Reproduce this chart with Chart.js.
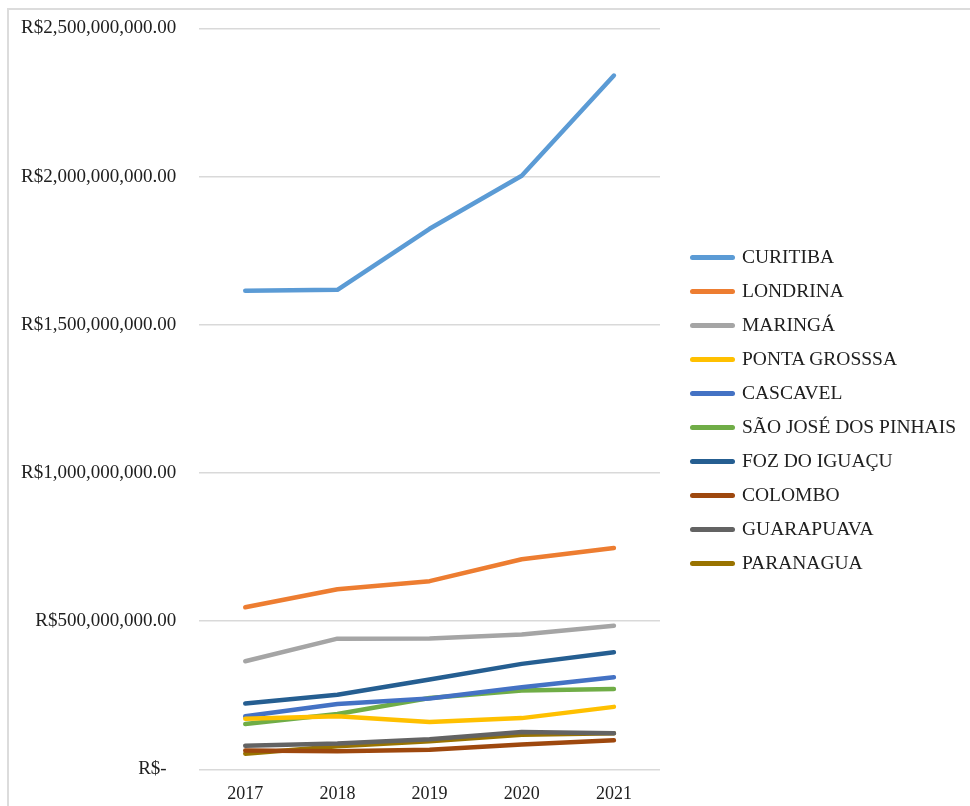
<!DOCTYPE html>
<html>
<head>
<meta charset="utf-8">
<script src="https://cdn.jsdelivr.net/npm/chart.js@4.4.1/dist/chart.umd.min.js"></script>
<style>
  html, body { margin: 0; padding: 0; background: #fff; }
  #wrap { position: relative; width: 970px; height: 806px; overflow: hidden; }
  #frame { position: absolute; left: 7px; top: 8px; width: 980px; height: 820px;
           border-left: 2px solid #dcdcdc; border-top: 2px solid #dcdcdc; pointer-events: none; }
  #c { position: absolute; left: 0; top: -6px; }
  #legend { position: absolute; left: 690px; top: 240px; font-family: "Liberation Serif", "Times New Roman", serif;
            font-size: 19.5px; color: #202020; }
  .item { position: absolute; left: 0; height: 34px; white-space: nowrap; }
  .swatch { position: absolute; left: 0; width: 45px; height: 4.5px; border-radius: 3px; }
  .label { position: absolute; left: 52px; line-height: 20px; }
</style>
</head>
<body>
<div id="wrap">
  <canvas id="c" width="970" height="825"></canvas>
  <div id="frame"></div>
  <div id="legend"></div>
</div>
<script>
const years = ['2017', '2018', '2019', '2020', '2021'];
const cities = ['CURITIBA', 'LONDRINA', 'MARINGÁ', 'PONTA GROSSSA', 'CASCAVEL',
                'SÃO JOSÉ DOS PINHAIS', 'FOZ DO IGUAÇU', 'COLOMBO', 'GUARAPUAVA', 'PARANAGUA'];
const colors = ['#5B9BD5', '#ED7D31', '#A5A5A5', '#FFC000', '#4472C4',
                '#70AD47', '#255E91', '#9E480E', '#636363', '#997300'];

const curitiba    = [1615000000, 1618000000, 1824000000, 2003000000, 2341000000];
const londrina    = [547000000, 608000000, 635000000, 709000000, 747000000];
const maringa     = [365000000, 441000000, 442000000, 455000000, 485000000];
const pontaGrossa = [171000000, 179000000, 160000000, 173000000, 211000000];
const cascavel    = [179000000, 221000000, 239000000, 277000000, 311000000];
const saoJose     = [153000000, 187000000, 241000000, 266000000, 271000000];
const fozIguacu   = [222000000, 252000000, 303000000, 356000000, 395000000];
const colombo     = [64000000, 61000000, 66000000, 84000000, 98000000];
const guarapuava  = [80000000, 87000000, 102000000, 126000000, 122000000];
const paranagua   = [53000000, 78000000, 95000000, 117000000, 122000000];

const seriesValues = [curitiba, londrina, maringa, pontaGrossa, cascavel,
                      saoJose, fozIguacu, colombo, guarapuava, paranagua];

const yMin = 0, yMax = 2500000000, yStep = 500000000;

const datasets = cities.map((name, i) => ({
  label: name,
  data: seriesValues[i],
  borderColor: colors[i],
  backgroundColor: colors[i],
  borderWidth: 4.5,
  borderCapStyle: 'round',
  borderJoinStyle: 'round',
  pointRadius: 0,
  tension: 0,
  fill: false
}));

const fontFamily = '"Liberation Serif", "Times New Roman", serif';

function fmtMoney(v) {
  if (v === 0) return 'R$-  ';
  return 'R$' + v.toLocaleString('en-US', { minimumFractionDigits: 2, maximumFractionDigits: 2 });
}

const chart = new Chart(document.getElementById('c'), {
  type: 'line',
  data: { labels: years, datasets: datasets },
  options: {
    responsive: false,
    animation: false,
    layout: { padding: { left: -2, right: 310, top: 7, bottom: 0 } },
    plugins: { legend: { display: false }, tooltip: { enabled: false } },
    scales: {
      x: {
        offset: true,
        grid: { display: false, drawTicks: false },
        border: { display: false },
        ticks: { color: '#202020', font: { family: fontFamily, size: 18 }, padding: 14 }
      },
      y: {
        min: yMin, max: yMax,
        grid: { color: '#d9d9d9', lineWidth: 1.5, drawTicks: false },
        border: { display: false },
        ticks: {
          stepSize: yStep,
          color: '#202020',
          font: { family: fontFamily, size: 19 },
          padding: 23,
          callback: (v) => fmtMoney(v)
        }
      }
    }
  }
});

const leg = document.getElementById('legend');
cities.forEach((name, i) => {
  const item = document.createElement('div');
  item.className = 'item';
  item.style.top = (i * 34) + 'px';
  const sw = document.createElement('div');
  sw.className = 'swatch';
  sw.style.background = colors[i];
  sw.style.top = '15px';
  const lb = document.createElement('div');
  lb.className = 'label';
  lb.style.top = '7px';
  lb.textContent = name;
  item.appendChild(sw);
  item.appendChild(lb);
  leg.appendChild(item);
});
</script>
</body>
</html>
